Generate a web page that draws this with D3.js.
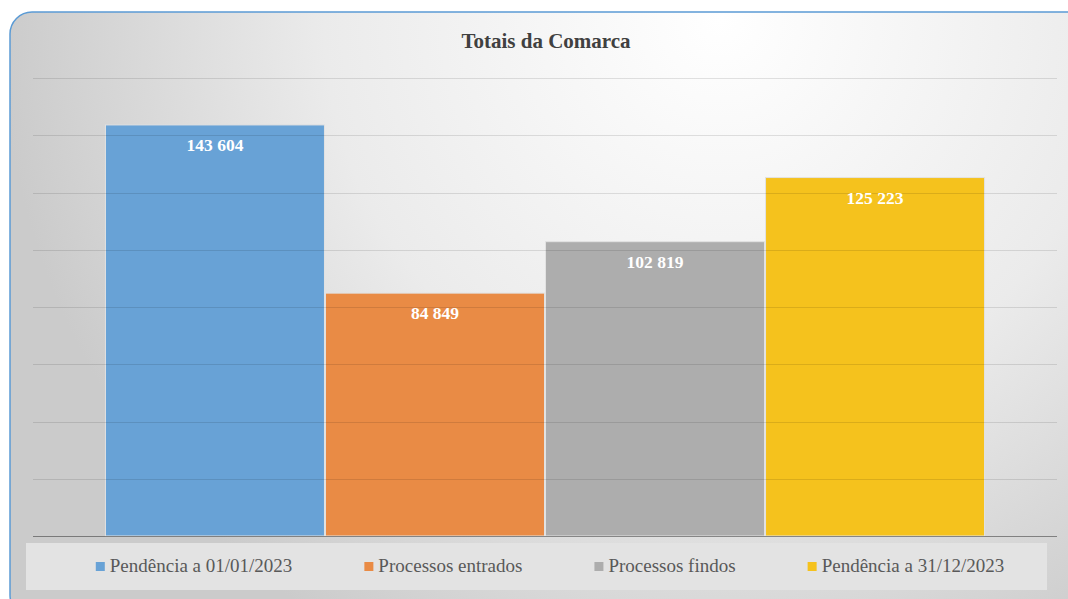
<!DOCTYPE html>
<html>
<head>
<meta charset="utf-8">
<script src="https://cdn.jsdelivr.net/npm/d3@7"></script>
<style>
  body { margin: 0; background: #fff; }
  svg { display: block; }
</style>
</head>
<body>
<div id="chart"></div>
<script>
const W = 1068;
const H = 599;
const SERIF = "'Liberation Serif', 'DejaVu Serif', serif";

const categories = ['Pendência a 01/01/2023', 'Processos entrados', 'Processos findos', 'Pendência a 31/12/2023'];
const values = [143604, 84849, 102819, 125223];
const colors = ['#68a2d6', '#e98b45', '#adadad', '#f5c21d'];
const yTicks = [0, 20000, 40000, 60000, 80000, 100000, 120000, 140000, 160000];

const fmt = v => d3.format(',')(v).replace(/,/g, ' ');

const svg = d3.select('#chart').append('svg')
  .attr('width', W)
  .attr('height', H);

const defs = svg.append('defs');
const bg = defs.append('radialGradient')
  .attr('id', 'bg')
  .attr('gradientUnits', 'userSpaceOnUse')
  .attr('cx', 720).attr('cy', 20).attr('r', 720);
bg.append('stop').attr('offset', '0%').attr('stop-color', '#ffffff');
bg.append('stop').attr('offset', '55%').attr('stop-color', '#ebebeb');
bg.append('stop').attr('offset', '100%').attr('stop-color', '#cbcbcb');

// chart area frame
svg.append('rect')
  .attr('x', 10).attr('y', 12)
  .attr('width', 1078).attr('height', 605)
  .attr('rx', 22)
  .attr('fill', 'url(#bg)')
  .attr('stroke', '#5b9bd5')
  .attr('stroke-width', 1.5);

const x = d3.scaleBand()
  .domain(categories)
  .range([33, 1057])
  .paddingInner(0)
  .paddingOuter(0.327);

const y = d3.scaleLinear()
  .domain([0, 160000])
  .range([536, 78]);

svg.append('text')
  .attr('x', 546)
  .attr('y', 48)
  .attr('text-anchor', 'middle')
  .attr('font-family', SERIF)
  .attr('font-weight', 'bold')
  .attr('font-size', 21)
  .attr('fill', '#404040')
  .text('Totais da Comarca');

// bars
svg.append('g')
  .selectAll('rect')
  .data(values)
  .join('rect')
  .attr('x', (d, i) => x(categories[i]) + 0.5)
  .attr('y', d => y(d))
  .attr('width', x.bandwidth() - 1)
  .attr('height', d => y(0) - y(d))
  .attr('fill', (d, i) => colors[i])
  .attr('stroke', '#e2e2e2')
  .attr('stroke-width', 1);

// gridlines (show faintly through the bars)
svg.append('g')
  .selectAll('line')
  .data(yTicks)
  .join('line')
  .attr('x1', 33).attr('x2', 1057)
  .attr('y1', d => Math.round(y(d)) + 0.5)
  .attr('y2', d => Math.round(y(d)) + 0.5)
  .attr('stroke', '#000')
  .attr('stroke-opacity', d => d === 0 ? 0.4 : 0.11)
  .attr('stroke-width', 1);

// data labels
svg.append('g')
  .selectAll('text')
  .data(values)
  .join('text')
  .attr('x', (d, i) => x(categories[i]) + x.bandwidth() / 2)
  .attr('y', d => y(d) + 26)
  .attr('text-anchor', 'middle')
  .attr('font-family', SERIF)
  .attr('font-weight', 'bold')
  .attr('font-size', 17.5)
  .attr('fill', '#ffffff')
  .text(d => fmt(d));

// legend
svg.append('rect')
  .attr('x', 26).attr('y', 543)
  .attr('width', 1021).attr('height', 47)
  .attr('fill', '#e3e3e3');

const legend = svg.append('g');
const items = legend.selectAll('g')
  .data(categories)
  .join('g');

items.append('rect')
  .attr('width', 9).attr('height', 9)
  .attr('y', 562)
  .attr('fill', (d, i) => colors[i]);

items.append('text')
  .attr('x', 14)
  .attr('y', 572)
  .attr('font-family', SERIF)
  .attr('font-size', 19)
  .attr('fill', '#595959')
  .text(d => d);

const gap = 72;
const widths = [];
items.each(function () {
  widths.push(d3.select(this).select('text').node().getComputedTextLength() + 14);
});
const total = d3.sum(widths) + gap * (widths.length - 1);
let cur = 550 - total / 2;
items.attr('transform', (d, i) => {
  const t = `translate(${cur},0)`;
  cur += widths[i] + gap;
  return t;
});
</script>
</body>
</html>
